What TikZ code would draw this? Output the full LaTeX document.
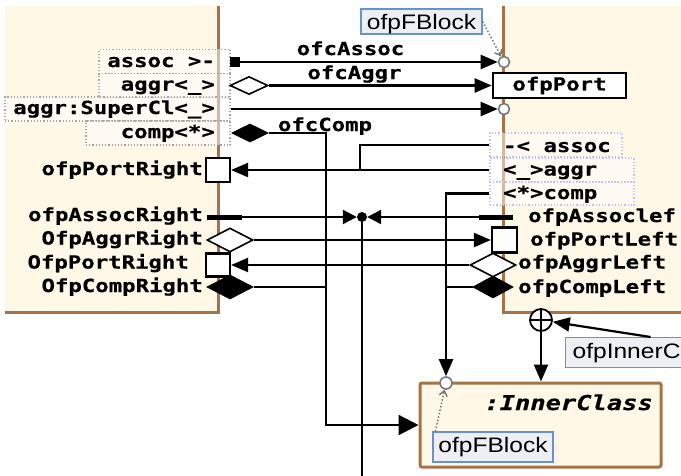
\documentclass[tikz,border=0pt]{standalone}
\usepackage{fontspec}
\newfontfamily\monof[FakeStretch=1.24, BoldFeatures={FakeBold=0.6}, BoldItalicFeatures={FakeBold=0.6}]{DejaVu Sans Mono}
\newfontfamily\lblf[FakeStretch=1.17]{Liberation Sans}
\usetikzlibrary{arrows.meta,shapes.geometric}
\definecolor{cream}{RGB}{255,248,230}
\definecolor{brownb}{RGB}{165,115,70}
\definecolor{lblfill}{RGB}{236,239,243}
\definecolor{lbldraw}{RGB}{105,145,205}
\definecolor{dotgray}{RGB}{165,165,165}
\definecolor{dotblue}{RGB}{190,190,240}
\definecolor{circgray}{RGB}{120,120,120}
\tikzset{
  mono/.style={font={\monof\bfseries\fontsize{18}{20}\selectfont}, inner sep=0pt},
  conn/.style={line width=2.2pt, draw=black},
  arr/.style={conn, -{Triangle[length=17pt,width=14pt]}},
  arrbig/.style={conn, -{Triangle[length=20pt,width=20pt]}},
  arrsm/.style={conn, -{Triangle[length=14pt,width=14pt]}},
  dotboxL/.style={draw=dotgray, dotted, line width=1.2pt, fill=white, fill opacity=0.5, inner sep=0pt},
  dotboxR/.style={draw=dotblue, dotted, line width=1.2pt, fill=white, fill opacity=0.5, inner sep=0pt},
  portbox/.style={draw=black, line width=2.2pt, fill=white, inner sep=0pt},
  opendia/.style={diamond, aspect=2, draw=black, line width=1.6pt, fill=white, inner sep=0pt},
  filldia/.style={diamond, aspect=2, draw=black, line width=1pt, fill=black, inner sep=0pt},
  pcirc/.style={circle, draw=circgray, line width=1.6pt, fill=white, inner sep=0pt, minimum size=11pt},
  fblbl/.style={draw=lbldraw, fill=lblfill, line width=1.2pt, font={\lblf\fontsize{21}{23}\selectfont}, inner sep=0pt},
  fbarr/.style={draw=circgray, dotted, line width=1.5pt, -{Straight Barb[length=5pt,width=8pt]}},
}
\begin{document}
\begin{tikzpicture}[x=1pt,y=-1pt]
\useasboundingbox (0,0) rectangle (681,475);
\clip (0,0) rectangle (681,475);
% blocks
\fill[cream] (5,6) rectangle (218,312);
\draw[brownb, line width=3pt] (218,6) -- (218,312) -- (5,312);
\fill[cream] (503,6) rectangle (690,312);
\draw[brownb, line width=3pt] (503,6) -- (503,312) -- (690,312);
\node[draw=brownb, fill=cream, line width=3pt, rounded corners=2pt, minimum width=241pt, minimum height=84pt, inner sep=0pt] (inner) at (540.5,425) {};
% left dotted boxes
\node[dotboxL, minimum width=131pt, minimum height=24.5pt] (bAssoc) at (164.5,61.5) {};
\node[dotboxL, minimum width=131pt, minimum height=23.5pt] (bAggr) at (164.5,85.5) {};
\node[dotboxL, minimum width=225pt, minimum height=24pt] (bSuper) at (117.5,109) {};
\node[dotboxL, minimum width=144pt, minimum height=24pt] (bComp) at (158,133) {};
\node[mono, anchor=base east] (tAssoc) at (215,67) {assoc >-};
\node[mono, anchor=base east] (tAggr) at (215,90.5) {aggr<\_>};
\node[mono, anchor=base east] (tSuper) at (215,114) {aggr:SuperCl<\_>};
\node[mono, anchor=base east] (tComp) at (215,138) {comp<*>};
% right dotted boxes
\node[dotboxR, minimum width=132pt, minimum height=24pt] (rAssoc) at (556,145) {};
\node[dotboxR, minimum width=144pt, minimum height=24pt] (rAggr) at (562,170) {};
\node[dotboxR, minimum width=144pt, minimum height=23pt] (rComp) at (562,193.5) {};
\node[mono, anchor=base west] (tRAssoc) at (503,152) {-< assoc};
\node[mono, anchor=base west] (tRAggr) at (503,175.5) {<\_>aggr};
\node[mono, anchor=base west] (tRComp) at (503,199) {<*>comp};
% markers top
\node[fill=black, minimum size=10pt, inner sep=0pt] (mAssoc) at (235,62) {};
\node[opendia, minimum width=38pt, minimum height=18pt] (mAggr) at (249,85.5) {};
\node[filldia, minimum width=36pt, minimum height=18pt] (mComp) at (250,133) {};
\node[pcirc] (cA) at (504,62) {};
\node[pcirc] (cS) at (504,109) {};
\node[pcirc, minimum size=12pt] (cI) at (446,383) {};
\node[portbox, line width=2.6pt, minimum width=133pt, minimum height=25pt, mono] (port) at (559.5,85.5) {ofpPort};
% connector labels
\node[mono, anchor=base] (lAssoc) at (350.5,55) {ofcAssoc};
\node[mono, anchor=base] (lAggr) at (354.5,79) {ofcAggr};
\node[mono, anchor=base] (lComp) at (325,131) {ofcComp};
% left lower ports
\node[portbox, minimum size=24pt] (pPR) at (218,170) {};
\node[mono, anchor=base east] (tPR) at (203,175) {ofpPortRight};
\node[fill=black, minimum width=35pt, minimum height=5pt, inner sep=0pt] (barL) at (224.5,217) {};
\node[mono, anchor=base east] (tAR) at (203,221) {ofpAssocRight};
\node[opendia, minimum width=46pt, minimum height=24pt] (dAR) at (230,240) {};
\node[mono, anchor=base east] (tAgR) at (203,244.5) {OfpAggrRight};
\node[portbox, minimum width=24pt, minimum height=23pt] (pPR2) at (218,265) {};
\node[mono, anchor=base east] (tPR2) at (189,268.5) {OfpPortRight};
\node[filldia, minimum width=46pt, minimum height=24pt] (dCR) at (230,287) {};
\node[mono, anchor=base east] (tCR) at (203,292) {OfpCompRight};
% right lower ports
\node[fill=black, minimum width=34pt, minimum height=5pt, inner sep=0pt] (barR) at (496,217) {};
\node[mono, anchor=base west] (tAL) at (528,222) {ofpAssoclef};
\node[portbox, minimum size=25pt] (pPL) at (504.5,240) {};
\node[mono, anchor=base west] (tPL) at (530,245.5) {ofpPortLeft};
\node[opendia, minimum width=46pt, minimum height=24pt] (dAL) at (493,265) {};
\node[mono, anchor=base west] (tAgL) at (518,268.5) {ofpAggrLeft};
\node[filldia, minimum width=40pt, minimum height=22pt] (dCL) at (493,287) {};
\node[mono, anchor=base west] (tCL) at (518,293) {ofpCompLeft};
\node[circle, fill=black, minimum size=10pt, inner sep=0pt] (dot) at (362,217) {};
% containment
\node[circle, draw=black, line width=1.8pt, fill=white, minimum size=22pt, inner sep=0pt] (oplus) at (541,320) {};
\draw[line width=1.5pt] (oplus.north) -- (oplus.south) (oplus.west) -- (oplus.east);
% inner class text
\node[inner sep=0pt, font={\monof\bfseries\itshape\fontsize{20.5}{22}\selectfont}, anchor=base east] (tInner) at (653,410) {:InnerClass};
% fblock labels
\node[fblbl, minimum width=121pt, minimum height=25pt, text depth=0pt] (fb1) at (421.5,21.5) {ofpFBlock};
\node[fblbl, minimum width=120pt, minimum height=30pt] (fb2) at (493,447) {ofpFBlock};
\node[fblbl, anchor=north west, inner xsep=7pt, text width=156pt, align=left, minimum height=30pt] (iLbl) at (565,337) {ofpInnerC};
% coordinates
\coordinate (kC) at (326,133);
\coordinate (kA) at (360,170);
\coordinate (dotEnd) at (362,480);
% connectors
\draw[arr] (mAssoc.east) -- (cA);
\draw[arr] (mAggr.east) -- (port.west);
\draw[arr] (bSuper.east) -- (cS);
\draw[arrbig] (mComp.east) -- (kC) |- (inner.west);
\draw[conn] (rAssoc.west) -| (kA);
\draw[arr] (rAggr.west) -- (pPR);
\draw[arr] (rComp.west) -| (cI);
\draw[arrsm] (barL.east) -- (dot);
\draw[arrsm] (barR.west) -- (dot);
\draw[conn] (dot) -- (dotEnd);
\draw[arr] (dAR.east) -- (pPL);
\draw[arr] (dAL.west) -- (pPR2);
\draw[conn] (dCR.east) -- (kC |- dCR.east);
\draw[conn] (dCL.west) -- (cI |- dCL.west);
\draw[arr] (oplus) -- (oplus |- inner.north);
\draw[arr] (iLbl.north) -- (oplus);
\draw[fbarr] (fb1.east) -- (cA);
\draw[fbarr] ([xshift=3pt]fb2.north west) -- (cI);
\end{tikzpicture}
\end{document}
